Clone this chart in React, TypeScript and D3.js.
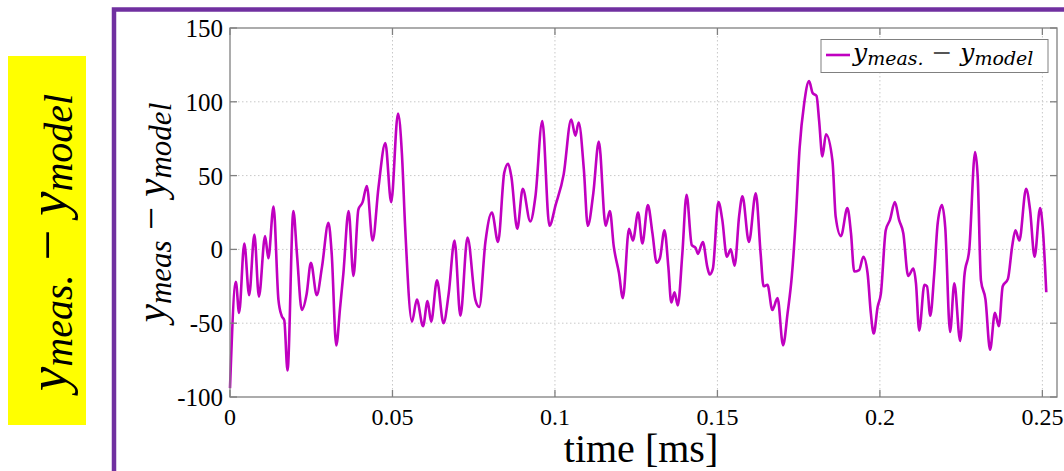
import React from "react";
import * as d3 from "d3";

// residual y_meas. - y_model over time
const timeMs = [
  0, 0.0018, 0.0028, 0.0044, 0.0059, 0.0075, 0.0089, 0.0108, 0.0118, 0.0134,
  0.0149, 0.0159, 0.0167, 0.0177, 0.0195, 0.0206, 0.0221, 0.0236, 0.0249, 0.0267,
  0.0283, 0.0303, 0.0313, 0.0327, 0.0339, 0.0349, 0.0365, 0.038, 0.0395, 0.0408,
  0.0421, 0.0439, 0.0457, 0.0478, 0.0496, 0.0517, 0.0529, 0.0539, 0.056, 0.0575,
  0.0594, 0.0608, 0.0619, 0.0637, 0.0657, 0.0673, 0.0691, 0.0709, 0.0731, 0.0755,
  0.0767, 0.0786, 0.0806, 0.0825, 0.0844, 0.0856, 0.0866, 0.0884, 0.0901, 0.0924,
  0.094, 0.0961, 0.0983, 0.1002, 0.1027, 0.105, 0.1063, 0.1073, 0.1089, 0.1101,
  0.1118, 0.1135, 0.1156, 0.1169, 0.1181, 0.1197, 0.1209, 0.1228, 0.124, 0.1256,
  0.1269, 0.1286, 0.13, 0.1313, 0.1323, 0.1337, 0.1349, 0.1358, 0.1368, 0.1378,
  0.1392, 0.1405, 0.1421, 0.1433, 0.144, 0.1455, 0.1469, 0.1476, 0.1486, 0.1503,
  0.1515, 0.1529, 0.1541, 0.1553, 0.1567, 0.1577, 0.1597, 0.1618, 0.1633, 0.1642,
  0.1654, 0.1669, 0.1685, 0.1702, 0.1716, 0.1729, 0.1741, 0.1753, 0.1767, 0.1782,
  0.1793, 0.1805, 0.1813, 0.1823, 0.1834, 0.1854, 0.1864, 0.188, 0.19, 0.1911,
  0.1921, 0.1936, 0.1949, 0.1962, 0.1972, 0.1981, 0.1993, 0.2003, 0.2018, 0.2031,
  0.2046, 0.2059, 0.2072, 0.2087, 0.2103, 0.2111, 0.2121, 0.2137, 0.2145, 0.2155,
  0.2167, 0.2178, 0.2191, 0.2201, 0.2216, 0.2229, 0.2247, 0.226, 0.2275, 0.2293,
  0.2301, 0.2311, 0.2325, 0.2339, 0.2354, 0.2366, 0.2378, 0.2394, 0.2407, 0.2417,
  0.2429, 0.245, 0.2462, 0.2476, 0.2493, 0.2501, 0.2512,
];
const residual = [
  -94, -22, -43, 4, -31, 10, -32, 9, -6, 29,
  -34, -45, -48, -82, 26, -3, -41, -30, -9, -31,
  -12, 18, -3, -65, -39, -16, 26, -18, 27, 32,
  43, 6, 42, 72, 32, 92, 65, 15, -49, -34,
  -52, -35, -49, -21, -50, -30, 6, -45, 8, -34,
  -39, 5, 25, 5, 52, 58, 49, 14, 41, 19,
  36, 87, 16, 30, 51, 88, 77, 86, 54, 16,
  38, 73, 16, 26, 2, -16, -33, 14, 6, 25,
  4, 30, 11, -9, -6, 13, -12, -36, -29, -38,
  -3, 37, 3, 1, -3, 5, -12, -17, -13, 32,
  20, -5, 0, -11, 23, 36, 5, 38, -3, -25,
  -24, -41, -33, -65, -43, -18, 20, 69, 99, 114,
  106, 104, 87, 63, 78, 60, 22, 9, 28, 11,
  -15, -14, -5, -16, -43, -57, -39, -30, 13, 20,
  32, 20, 11, -18, -13, -23, -55, -24, -25, -45,
  -17, 18, 30, 15, -56, -23, -62, -18, 0, 66,
  49, -21, -34, -68, -43, -52, -25, -20, 2, 13,
  6, 41, 27, -5, 28, 15, -29,
];

const xTicks = [0, 0.05, 0.1, 0.15, 0.2, 0.25];
const xTickLabels = ["0", "0.05", "0.1", "0.15", "0.2", "0.25"];
const yTicks = [-100, -50, 0, 50, 100, 150];
const yTickLabels = ["-100", "-50", "0", "50", "100", "150"];

const W = 1064;
const H = 471;
const left = 230, right = 1057, top = 28, bottom = 397;
const lineColor = "#c000c0";
const axisColor = "#808080";
const serif = "'Liberation Serif', 'Times New Roman', serif";
const wideSerif = "'DejaVu Serif', serif";

const App = () => {
  const x = d3.scaleLinear().domain([0, 0.2545]).range([left, right]);
  const y = d3.scaleLinear().domain([-100, 150]).range([bottom, top]);

  const pts: [number, number][] = timeMs.map((t, i) => [t, residual[i]]);
  const line = d3
    .line<[number, number]>()
    .x((d) => x(d[0]))
    .y((d) => y(d[1]))
    .curve(d3.curveMonotoneX);

  return (
    <svg
      width={W}
      height={H}
      style={{ position: "absolute", left: 0, top: 0, background: "#fff" }}
    >
      {/* yellow side label */}
      <rect x={8} y={56} width={78} height={369} fill="#ffff00" />
      <text
        transform="translate(66,242.5) rotate(-90)"
        textAnchor="middle"
        fontFamily={serif}
        fontStyle="italic"
        fontSize={55}
        fill="#000"
      >
        y<tspan dy={6} fontSize={40}>meas.</tspan>
        <tspan dy={-6} fontStyle="normal"> − </tspan>y
        <tspan dy={6} fontSize={40}>model</tspan>
      </text>

      {/* purple frame */}
      <rect x={114} y={9.5} width={1000} height={520} fill="none" stroke="#7030a0" strokeWidth={4.5} />

      {/* grid */}
      <g stroke="#c8c8c8" strokeWidth={1} strokeDasharray="1.5,2.5">
        {xTicks.slice(1).map((t) => (
          <line key={"gx" + t} x1={x(t)} x2={x(t)} y1={top} y2={bottom} />
        ))}
        {yTicks.slice(1, -1).map((v) => (
          <line key={"gy" + v} x1={left} x2={right} y1={y(v)} y2={y(v)} />
        ))}
      </g>

      {/* data */}
      <path d={line(pts) ?? ""} fill="none" stroke={lineColor} strokeWidth={2.6} strokeLinejoin="round" />

      {/* axes box and ticks */}
      <rect x={left} y={top} width={right - left} height={bottom - top} fill="none" stroke={axisColor} strokeWidth={1.3} />
      <g stroke={axisColor} strokeWidth={1.3}>
        {xTicks.map((t) => (
          <g key={"tx" + t}>
            <line x1={x(t)} x2={x(t)} y1={bottom} y2={bottom - 7} />
            <line x1={x(t)} x2={x(t)} y1={top} y2={top + 7} />
          </g>
        ))}
        {yTicks.map((v) => (
          <g key={"ty" + v}>
            <line x1={left} x2={left + 7} y1={y(v)} y2={y(v)} />
            <line x1={right} x2={right - 7} y1={y(v)} y2={y(v)} />
          </g>
        ))}
      </g>

      {/* tick labels */}
      <g fontFamily={serif} fill="#000">
        {xTicks.map((t, i) => (
          <text key={"lx" + t} x={x(t)} y={425} fontSize={24} textAnchor="middle">
            {xTickLabels[i]}
          </text>
        ))}
        {yTicks.map((v, i) => (
          <text key={"ly" + v} x={223} y={y(v) + 9} fontSize={25} textAnchor="end">
            {yTickLabels[i]}
          </text>
        ))}
      </g>

      {/* axis titles */}
      <text x={641} y={462} fontFamily={serif} fontSize={40} textAnchor="middle" fill="#000">
        time [ms]
      </text>
      <text
        transform="translate(165,212.5) rotate(-90)"
        textAnchor="middle"
        fontFamily={serif}
        fontStyle="italic"
        fontSize={41}
        fill="#000"
      >
        y<tspan dy={6} fontSize={31}>meas</tspan>
        <tspan dy={-6} fontStyle="normal"> − </tspan>y
        <tspan dy={6} fontSize={31}>model</tspan>
      </text>

      {/* legend */}
      <rect x={821} y={39.5} width={227} height={33} fill="#fff" stroke={axisColor} strokeWidth={1} />
      <line x1={826} x2={850} y1={55} y2={55} stroke={lineColor} strokeWidth={2.6} />
      <text x={853} y={61} fontFamily={wideSerif} fontStyle="italic" fontSize={25} fill="#000">
        y<tspan dy={4} fontSize={19}>meas.</tspan>
        <tspan dy={-4} fontStyle="normal" fill="#555"> − </tspan>y
        <tspan dy={4} fontSize={19}>model</tspan>
      </text>
    </svg>
  );
};

export default App;
